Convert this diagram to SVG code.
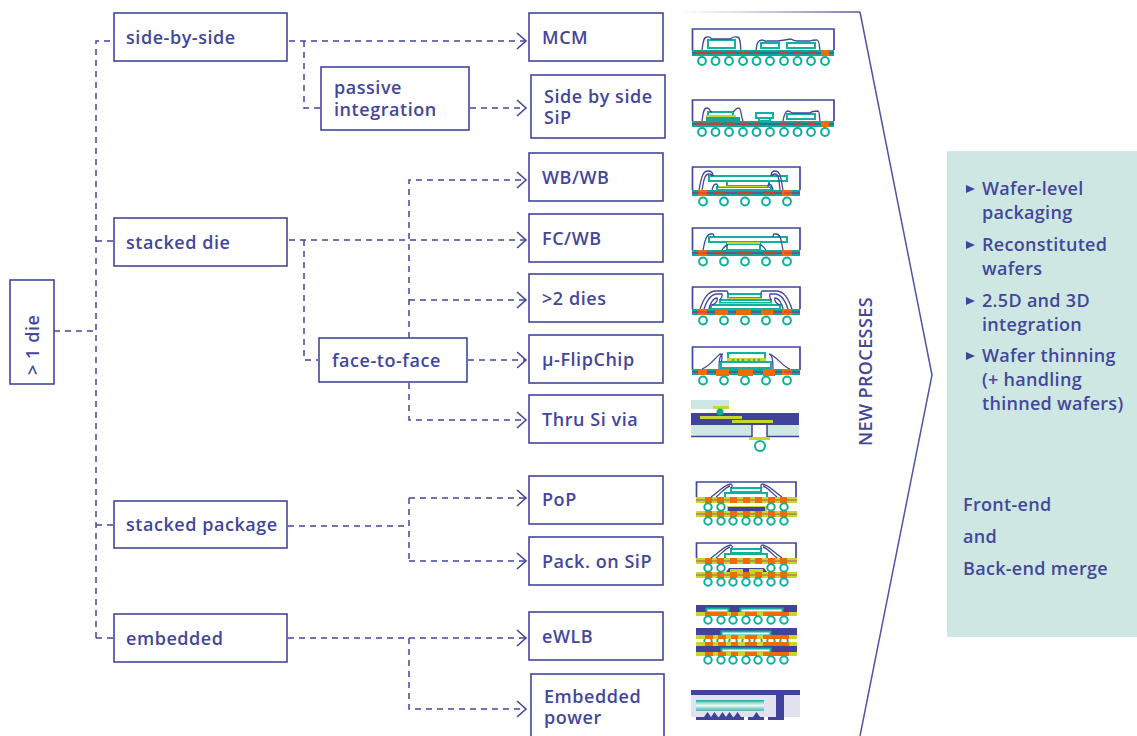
<svg xmlns="http://www.w3.org/2000/svg" width="1137" height="736" viewBox="0 0 1137 736">
<style>
text{font-family:"Open Sans","Noto Sans","Liberation Sans",sans-serif;font-weight:600;font-size:18px;fill:#43479b;letter-spacing:.55px}
#panel-text text{letter-spacing:.3px}
.box{fill:#fff;stroke:#43479b;stroke-width:1.6}
.dash{fill:none;stroke:#43479b;stroke-width:1.5;stroke-dasharray:6 5}
.head{fill:none;stroke:#43479b;stroke-width:1.6}
.ball{fill:#fff;stroke:#0bb09c;stroke-width:2}
.pk{fill:none;stroke:#43479b;stroke-width:1.7}
.wire{fill:none;stroke:#43479b;stroke-width:1.3}
.die{fill:#fff;stroke:#12b09f;stroke-width:2}
.teal{fill:#0aa99a}.org{fill:#ef6c00}.yel{fill:#c9d52c}.navy{fill:#41429a}.red{fill:#c8402f}.lt{fill:#cfe7e2}.lil{fill:#e1e1f0}
</style>
<defs>
<linearGradient id="fade" gradientUnits="userSpaceOnUse" x1="680" y1="0" x2="860" y2="0"><stop offset="0" stop-color="#ffffff"/><stop offset=".4" stop-color="#c8c8e4"/><stop offset="1" stop-color="#5055a5"/></linearGradient>
<path id="ah" class="head" d="M-9-8 0 0-9 8"/>
<g id="sub10">
<rect class="teal" x="692" y="50" width="142" height="6"/>
<path d="M692 53H834" stroke="#41429a" stroke-width="1.2"/>
<path d="M696 52.700h11M710 52.700h11M725 52.700h11M740 52.700h9M753 52.700h7M780 52.700h8M794 52.700h8M808 52.700h8" stroke="#c8402f" stroke-width="2.400"/>
<rect class="org" x="821" y="50" width="8" height="6"/>
<g class="ball"><circle cx="702" cy="61" r="3.900"/><circle cx="715.500" cy="61" r="3.900"/><circle cx="729" cy="61" r="3.900"/><circle cx="743" cy="61" r="3.900"/><circle cx="756.500" cy="61" r="3.900"/><circle cx="770" cy="61" r="3.900"/><circle cx="784" cy="61" r="3.900"/><circle cx="797.500" cy="61" r="3.900"/><circle cx="811" cy="61" r="3.900"/><circle cx="825" cy="61" r="3.900"/></g>
</g>
<g id="sub5">
<rect class="teal" x="692" y="190" width="108" height="6"/>
<path d="M692 193H800" stroke="#41429a" stroke-width="1.100"/>
<rect class="org" x="698" y="190" width="9" height="6"/><rect class="org" x="782" y="190" width="10" height="6"/>
<path d="M692 193H800" stroke="#c0307a" stroke-width="1" stroke-dasharray="20 3"/>
<path d="M714 193h11M737 193h15M764 193h11" stroke="#c8402f" stroke-width="2.400"/>
<g class="ball"><circle cx="703" cy="201.500" r="3.900"/><circle cx="724" cy="201.500" r="3.900"/><circle cx="745" cy="201.500" r="3.900"/><circle cx="766" cy="201.500" r="3.900"/><circle cx="787" cy="201.500" r="3.900"/></g>
</g>
<g id="orange7" class="org"><rect x="705" y="0" width="7" height="6"/><rect x="717" y="0" width="7" height="6"/><rect x="730" y="0" width="7" height="6"/><rect x="743" y="0" width="7" height="6"/><rect x="755" y="0" width="7" height="6"/><rect x="768" y="0" width="7" height="6"/><rect x="780" y="0" width="7" height="6"/></g>
<g id="lam"><rect class="yel" x="696" y="0" width="101" height="6"/><path d="M696 3H797" stroke="#a5566a" stroke-width="1.200"/><use href="#orange7"/></g>
<g id="balls7" class="ball"><circle cx="708" cy="0" r="3.700"/><circle cx="721" cy="0" r="3.700"/><circle cx="733" cy="0" r="3.700"/><circle cx="746" cy="0" r="3.700"/><circle cx="758" cy="0" r="3.700"/><circle cx="771" cy="0" r="3.700"/><circle cx="784" cy="0" r="3.700"/></g>
<linearGradient id="stripes" x1="0" y1="0" x2="0" y2="1"><stop offset="0" stop-color="#0aa99a"/><stop offset=".2" stop-color="#7fd0c6"/><stop offset=".5" stop-color="#f2faf8"/><stop offset=".75" stop-color="#8fd5cb"/><stop offset="1" stop-color="#4cbdaf"/></linearGradient>
</defs>

<path d="M680 12H860" fill="none" stroke="url(#fade)" stroke-width="1.500"/>
<path d="M860 12 932 375 860 736" fill="none" stroke="#5055a5" stroke-width="1.500"/>
<rect class="lt" x="947" y="151" width="190" height="486"/>

<g id="connectors">
<path class="dash" d="M54 331H96M96 638V41H113M96 241H113M96 525H113M96 638H113"/>
<path class="dash" d="M289 41H525M304 41V108H320M470 108H525"/>
<path class="dash" d="M289 240H525M304 240V360H318M468 360H525M409 338V180H525M409 300H525M409 383V420H525"/>
<path class="dash" d="M288 526H409M409 498V561M409 498H525M409 561H525"/>
<path class="dash" d="M288 638H525M409 638V709H525"/>
<use href="#ah" x="526" y="41"/><use href="#ah" x="526" y="108"/><use href="#ah" x="526" y="180"/><use href="#ah" x="526" y="240"/><use href="#ah" x="526" y="300"/><use href="#ah" x="526" y="360"/><use href="#ah" x="526" y="420"/><use href="#ah" x="526" y="498"/><use href="#ah" x="526" y="561"/><use href="#ah" x="526" y="638"/><use href="#ah" x="526" y="709"/>
</g>

<g id="n-die"><rect class="box" x="10" y="280" width="44" height="104"/><text transform="translate(39 375) rotate(-90)">&gt; 1 die</text></g>
<g id="n-side"><rect class="box" x="114" y="13" width="173" height="48"/><text x="126" y="44">side-by-side</text></g>
<g id="n-passive"><rect class="box" x="321" y="67" width="148" height="63"/><text x="334" y="94">passive<tspan x="334" y="116">integration</tspan></text></g>
<g id="n-stacked"><rect class="box" x="114" y="218" width="173" height="48"/><text x="126" y="249">stacked die</text></g>
<g id="n-face"><rect class="box" x="319" y="338" width="148" height="44"/><text x="332" y="367">face-to-face</text></g>
<g id="n-package"><rect class="box" x="114" y="501" width="173" height="47"/><text x="126" y="531">stacked package</text></g>
<g id="n-embedded"><rect class="box" x="114" y="614" width="173" height="48"/><text x="126" y="645">embedded</text></g>
<g id="n-mcm"><rect class="box" x="529" y="13" width="134" height="48"/><text x="542" y="44">MCM</text></g>
<g id="n-sip"><rect class="box" x="531" y="75" width="134" height="63"/><text x="544" y="103">Side by side<tspan x="544" y="124">SiP</tspan></text></g>
<g id="n-wbwb"><rect class="box" x="529" y="153" width="134" height="48"/><text x="542" y="184">WB/WB</text></g>
<g id="n-fcwb"><rect class="box" x="529" y="214" width="134" height="48"/><text x="542" y="245">FC/WB</text></g>
<g id="n-2dies"><rect class="box" x="529" y="274" width="134" height="48"/><text x="542" y="305">&gt;2 dies</text></g>
<g id="n-flip"><rect class="box" x="529" y="335" width="134" height="48"/><text x="542" y="366">µ-FlipChip</text></g>
<g id="n-thru"><rect class="box" x="529" y="395" width="134" height="48"/><text x="542" y="426">Thru Si via</text></g>
<g id="n-pop"><rect class="box" x="529" y="476" width="134" height="48"/><text x="542" y="506">PoP</text></g>
<g id="n-pack"><rect class="box" x="529" y="537" width="134" height="48"/><text x="542" y="568">Pack. on SiP</text></g>
<g id="n-ewlb"><rect class="box" x="529" y="612" width="134" height="48"/><text x="542" y="643">eWLB</text></g>
<g id="n-power"><rect class="box" x="531" y="674" width="133" height="64"/><text x="544" y="703">Embedded<tspan x="544" y="724">power</tspan></text></g>

<g id="pkg-mcm">
<path class="pk" d="M692.500 50V29H834V50"/>
<rect class="die" x="708" y="40" width="27" height="8"/><rect class="die" x="761" y="43" width="18" height="5"/><rect class="die" x="787" y="43" width="28" height="5"/>
<path class="wire" d="M702 50C703 44 703 37 707 37 711 36 711 39 712 39H730C731 39 732 36 737 37 741 37 740 45 741 50M756 50C757 43 758 40 762 40 764 40 765 42 767 41H778L791 39C793 40 794 41 797 41H810C812 40 815 40 817 40 820 41 819 46 820 50"/>
<use href="#sub10"/>
</g>
<g id="pkg-sip">
<path class="pk" d="M692.500 121V100H834V121"/>
<use href="#sub10" y="71"/>
<rect class="die" x="708" y="112" width="25" height="4"/><rect class="yel" x="706" y="115" width="30" height="2"/><rect class="teal" x="706" y="117" width="34" height="4"/>
<rect class="die" x="756" y="113" width="17" height="5"/><rect class="die" x="759" y="118" width="11" height="3"/>
<rect class="die" x="787" y="114" width="28" height="5"/>
<path class="wire" d="M702 121C703 115 703 108 707 108 711 108 709 112 712 112M733 112C735 111 735 108 739 108 741 108 741 116 743 121M783 121C784 115 785 111 788 111 790 111 791 113 793 113H810C812 111 816 111 818 111 820 112 819 117 820 121"/>
</g>
<g id="pkg-wbwb">
<path class="pk" d="M692.500 190V167H800V190"/>
<use href="#sub5"/>
<rect class="die" x="709" y="176" width="78" height="5"/><rect class="die" x="727" y="181" width="42" height="5"/><rect class="die" x="717" y="187" width="54" height="3"/><rect class="yel" x="718" y="186" width="52" height="1"/>
<path class="wire" d="M699 190C701 180 702 171 708 171 712 171 713 174 713 176M702 190C704 181 704 174 709 174 711 174 712 175 712 176M783 190C781 180 781 171 775 171 771 171 771 174 771 176M780 190C779 181 779 174 775 174 773 174 772 175 772 176M712 190C713 186 714 184 716 184 717 184 718 186 718 187M773 190C772 186 771 184 769 184 768 184 768 186 768 187"/>
</g>
<g id="pkg-fcwb">
<path class="pk" d="M692.500 250V228H800V250"/>
<use href="#sub5" y="60"/>
<rect class="die" x="709" y="237" width="78" height="5"/><rect class="die" x="727" y="244" width="33" height="6"/><rect class="yel" x="727" y="242" width="33" height="2"/>
<path class="wire" d="M703 250C705 241 706 234 711 234H713C714 235 714 236 714 237M783 250C781 241 781 234 776 234H774C773 235 773 236 773 237M722 250C724 247 726 245 728 245M766 250C764 247 762 245 760 245"/>
</g>
<g id="pkg-2dies">
<path class="pk" d="M692.500 309V287H800V309"/>
<use href="#sub5" y="119"/>
<rect class="org" x="715" y="309" width="13" height="6"/><rect class="org" x="736" y="309" width="15" height="6"/><rect class="org" x="761" y="309" width="12" height="6"/>
<rect class="die" x="728" y="294" width="33" height="4"/><rect class="yel" x="727" y="298" width="35" height="1"/><rect class="die" x="720" y="300" width="51" height="3"/><rect class="yel" x="719" y="303" width="53" height="1"/><rect class="die" x="711" y="305" width="69" height="4"/>
<path class="wire" d="M700 309C704 298 708 291 716 291H727C728 292 728 293 728 294M704 309C707 300 711 294 717 294H722C723 296 721 298 720 300M709 309C710 304 713 298 717 298 718 300 716 304 712 305M792 309C788 298 784 291 776 291H762C761 292 761 293 761 294M788 309C785 300 781 294 775 294H770C769 296 770 298 771 300M783 309C782 304 779 298 775 298 774 300 776 304 780 305"/>
</g>
<g id="pkg-flip">
<path class="pk" d="M692.500 370V347H800V370"/>
<use href="#sub5" y="179"/>
<rect class="org" x="698" y="370" width="9" height="5"/><rect class="org" x="716" y="369" width="13" height="7"/><rect class="org" x="738" y="369" width="15" height="7"/><rect class="org" x="763" y="369" width="12" height="7"/>
<rect class="die" x="728" y="353" width="37" height="6"/><rect class="yel" x="727" y="358" width="39" height="4"/>
<g fill="#0aa99a"><circle cx="733" cy="360" r="1"/><circle cx="738" cy="360" r="1"/><circle cx="743" cy="360" r="1"/><circle cx="749" cy="360" r="1"/><circle cx="754" cy="360" r="1"/><circle cx="759" cy="360" r="1"/></g>
<rect class="die" x="721" y="362" width="50" height="6"/>
<path class="wire" d="M702 369C710 366 715 358 720 354 723 354 722 360 721 362M719 369C719 362 720 354 723 354M790 369C782 366 778 358 770 354M773 369C773 362 772 354 769 354"/>
</g>
<g id="pkg-tsv">
<rect class="lt" x="691" y="400" width="38" height="9"/>
<rect class="yel" x="713" y="406" width="16" height="3"/>
<rect class="navy" x="691" y="413" width="108" height="12"/>
<circle cx="720" cy="412" r="3.500" class="teal"/>
<rect class="yel" x="700" y="416" width="42" height="3"/><rect class="yel" x="732" y="420" width="41" height="3"/>
<rect class="lt" x="691" y="425" width="61" height="11"/><rect class="lt" x="767" y="425" width="32" height="11"/>
<path d="M691 436.500H752V425M799 436.500H767V425" fill="none" stroke="#41429a" stroke-width="1.500"/>
<rect class="yel" x="749" y="437" width="21" height="3"/>
<circle class="ball" cx="760" cy="446" r="5"/>
</g>
<g id="pkg-pop">
<path class="pk" d="M696.500 497V482H796V497"/>
<use href="#lam" y="497"/>
<use href="#lam" y="511"/>
<rect class="yel" x="727" y="506" width="40" height="5"/><rect class="navy" x="728" y="507" width="37" height="4"/>
<g class="ball"><circle cx="708" cy="507" r="3.700"/><circle cx="721" cy="507" r="3.700"/><circle cx="771" cy="507" r="3.700"/><circle cx="784" cy="507" r="3.700"/></g>
<use href="#balls7" y="521"/>
<rect class="die" x="731" y="488" width="30" height="4"/><path d="M725 497V493H767V497" class="die"/>
<path class="wire" d="M711 497C720 491 725 484 731 484 733 485 732 487 731 488M716 497C722 492 726 487 730 486M782 497C773 491 768 484 762 484 760 485 761 487 762 488M777 497C771 492 767 487 763 486"/>
</g>
<g id="pkg-pack">
<path class="pk" d="M696.500 558V543H796V558"/>
<use href="#lam" y="558"/>
<use href="#lam" y="572"/>
<path class="navy" d="M726 572 729 568H764L767 572Z"/>
<rect class="yel" x="730" y="569" width="13" height="3"/><rect class="yel" x="749" y="569" width="14" height="3"/>
<g class="ball"><circle cx="708" cy="568" r="3.700"/><circle cx="721" cy="568" r="3.700"/><circle cx="771" cy="568" r="3.700"/><circle cx="784" cy="568" r="3.700"/></g>
<use href="#balls7" y="582"/>
<rect class="die" x="731" y="549" width="30" height="4"/><path d="M725 558V554H767V558" class="die"/>
<path class="wire" d="M711 558C720 552 725 545 731 545 733 546 732 548 731 549M716 558C722 553 726 548 730 547M782 558C773 552 768 545 762 545 760 546 761 548 762 549M777 558C771 553 767 548 763 547"/>
</g>
<g id="pkg-ewlb">
<rect class="navy" x="696" y="605" width="101" height="7"/>
<rect class="die" x="706.500" y="608.500" width="22" height="4" stroke-width="1"/><rect class="die" x="740.500" y="608.500" width="42" height="4" stroke-width="1"/>
<rect class="yel" x="696" y="612" width="101" height="4"/>
<g class="org"><rect x="705" y="612" width="22" height="4"/><rect x="731" y="612" width="7" height="4"/><rect x="745" y="612" width="12" height="4"/><rect x="763" y="612" width="26" height="4"/></g>
<use href="#balls7" y="620"/>
<use href="#balls7" y="641"/>
<rect class="navy" x="696" y="628" width="101" height="7"/>
<rect class="die" x="721.500" y="631.500" width="49" height="4" stroke-width="1"/>
<rect class="yel" x="696" y="635" width="101" height="4"/>
<g class="org"><rect x="705" y="635" width="8" height="4"/><rect x="718" y="635" width="8" height="4"/><rect x="731" y="635" width="7" height="4"/><rect x="745" y="635" width="12" height="4"/><rect x="763" y="635" width="26" height="4"/></g>
<rect class="yel" x="696" y="642" width="101" height="4"/>
<g class="org"><rect x="705" y="642" width="8" height="4"/><rect x="718" y="642" width="8" height="4"/><rect x="731" y="642" width="7" height="4"/><rect x="745" y="642" width="12" height="4"/><rect x="763" y="642" width="26" height="4"/></g>
<rect class="navy" x="696" y="646" width="101" height="6"/>
<rect class="die" x="721.500" y="648.500" width="49" height="4" stroke-width="1"/>
<rect class="yel" x="696" y="652" width="101" height="4"/>
<g class="org"><rect x="705" y="652" width="8" height="4"/><rect x="718" y="652" width="8" height="4"/><rect x="731" y="652" width="7" height="4"/><rect x="745" y="652" width="12" height="4"/><rect x="763" y="652" width="26" height="4"/></g>
<use href="#balls7" y="660"/>
</g>
<g id="pkg-power">
<rect class="lil" x="691" y="690" width="109" height="27"/>
<rect class="navy" x="691" y="690" width="109" height="5"/>
<rect class="navy" x="776" y="695" width="8" height="25"/>
<rect x="696" y="700" width="68" height="11" fill="url(#stripes)"/>
<path class="navy" d="M704 717 707.500 712 711 717ZM711 717 714.500 712 718 717ZM719 717 722.500 712 726 717ZM726 717 729.500 712 733 717ZM734 717 737.500 712 741 717ZM753 717 756.500 712 760 717Z"/>
<rect class="navy" x="696" y="717" width="48" height="3"/><rect class="navy" x="748" y="717" width="16" height="3"/><rect class="navy" x="768" y="717" width="16" height="3"/>
</g>

<text transform="translate(872 446) rotate(-90)" style="letter-spacing:.4px">NEW PROCESSES</text>
<g id="panel-text">
<path class="navy" d="M966 185 975 189 966 193ZM966 241 975 245 966 249ZM966 297 975 301 966 305ZM966 352 975 356 966 360Z"/>
<text x="982" y="195">Wafer-level</text><text x="982" y="219">packaging</text>
<text x="982" y="251">Reconstituted</text><text x="982" y="275">wafers</text>
<text x="982" y="307">2.5D and 3D</text><text x="982" y="331">integration</text>
<text x="982" y="362">Wafer thinning</text><text x="982" y="386">(+ handling</text><text x="982" y="410">thinned wafers)</text>
<text x="963" y="511">Front-end</text><text x="963" y="543">and</text><text x="963" y="575">Back-end merge</text>
</g>
</svg>
